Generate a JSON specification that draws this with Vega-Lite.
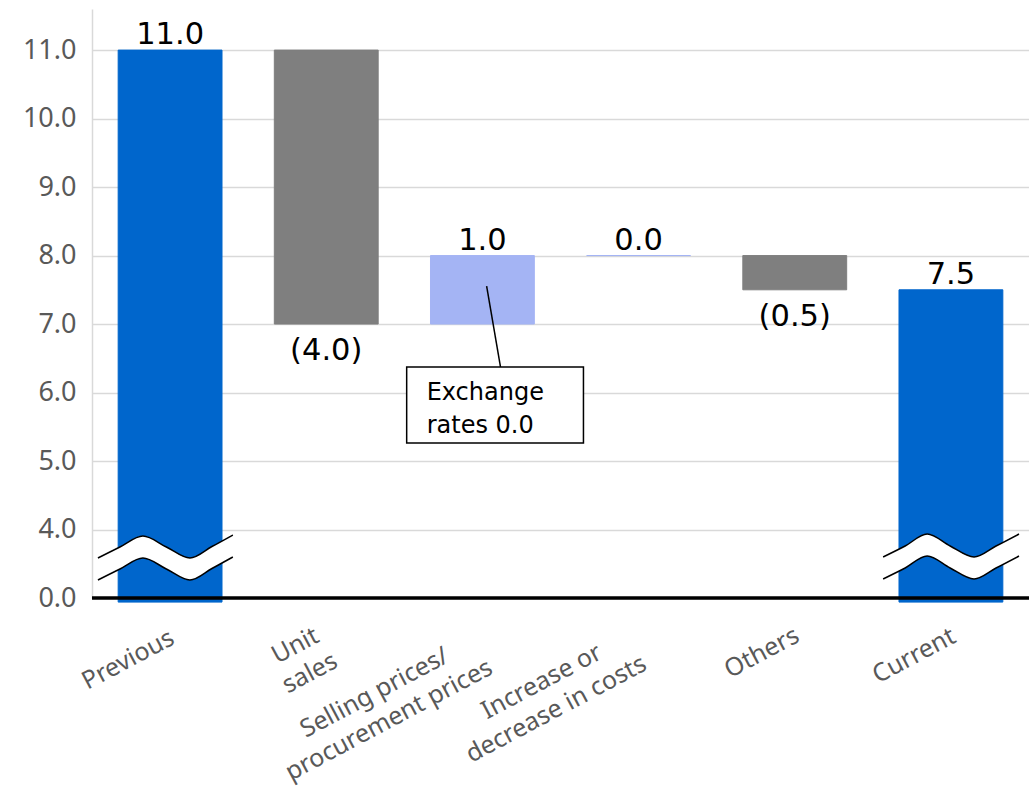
{
  "$schema": "https://vega.github.io/schema/vega-lite/v6.json",
  "width": 937,
  "height": 589,
  "autosize": {"type": "none"},
  "padding": {"left": 92, "top": 9, "right": 0, "bottom": 193},
  "background": "white",
  "config": {"view": {"stroke": null}},
  "datasets": {
    "steps": [
      {"cat": "Previous", "top": 11, "bottom": 2.94, "kind": "total", "label": "11.0"},
      {"cat": "Unit sales", "top": 11, "bottom": 7, "kind": "decrease", "label": "(4.0)"},
      {"cat": "Selling prices/procurement prices", "top": 8, "bottom": 7, "kind": "increase", "label": "1.0"},
      {"cat": "Increase or decrease in costs", "top": 8, "bottom": 8, "kind": "increase", "label": "0.0"},
      {"cat": "Others", "top": 8, "bottom": 7.5, "kind": "decrease", "label": "(0.5)"},
      {"cat": "Current", "top": 7.5, "bottom": 2.94, "kind": "total", "label": "7.5"}
    ],
    "wave": [
      {"bar": "Previous", "x": 0.038, "top": 3.584, "low": 3.263},
      {"bar": "Previous", "x": 0.179, "top": 3.745, "low": 3.424},
      {"bar": "Previous", "x": 0.326, "top": 3.905, "low": 3.584},
      {"bar": "Previous", "x": 0.476, "top": 3.745, "low": 3.424},
      {"bar": "Previous", "x": 0.627, "top": 3.584, "low": 3.263},
      {"bar": "Previous", "x": 0.768, "top": 3.752, "low": 3.431},
      {"bar": "Previous", "x": 0.902, "top": 3.920, "low": 3.599},
      {"bar": "Current", "x": 5.066, "top": 3.599, "low": 3.278},
      {"bar": "Current", "x": 5.207, "top": 3.759, "low": 3.438},
      {"bar": "Current", "x": 5.348, "top": 3.934, "low": 3.613},
      {"bar": "Current", "x": 5.495, "top": 3.759, "low": 3.438},
      {"bar": "Current", "x": 5.648, "top": 3.599, "low": 3.278},
      {"bar": "Current", "x": 5.789, "top": 3.759, "low": 3.438},
      {"bar": "Current", "x": 5.936, "top": 3.934, "low": 3.613}
    ],
    "callout": [
      {"boxLeft": 2.015, "boxRight": 3.147, "boxTop": 6.372, "boxBottom": 5.263,
       "pointX": 2.527, "pointY": 7.555, "tailX": 2.616, "tailY": 6.372,
       "textX": 2.143, "textY": 5.891, "text": "Exchange\nrates 0.0"}
    ]
  },
  "layer": [
    {
      "data": {"name": "steps"},
      "mark": {"type": "bar", "strokeWidth": 1},
      "encoding": {
        "x": {
          "field": "cat", "type": "nominal", "sort": null,
          "scale": {
            "domain": ["Previous", "Unit sales", "Selling prices/procurement prices", "Increase or decrease in costs", "Others", "Current"],
            "paddingInner": 0.335, "paddingOuter": 0.1675
          },
          "axis": {
            "title": null, "domain": false, "ticks": false,
            "labelAngle": -28, "labelAlign": "center", "labelBaseline": "middle",
            "labelOffset": {"condition": [
              {"test": "datum.value == 'Previous'", "value": -42},
              {"test": "datum.value == 'Unit sales'", "value": -31},
              {"test": "datum.value == 'Selling prices/procurement prices'", "value": -108},
              {"test": "datum.value == 'Increase or decrease in costs'", "value": -97},
              {"test": "datum.value == 'Others'", "value": -33}
            ], "value": -37},
            "labelPadding": {"condition": [
              {"test": "datum.value == 'Previous'", "value": 61},
              {"test": "datum.value == 'Unit sales'", "value": 47},
              {"test": "datum.value == 'Selling prices/procurement prices'", "value": 94},
              {"test": "datum.value == 'Increase or decrease in costs'", "value": 83},
              {"test": "datum.value == 'Others'", "value": 54}
            ], "value": 57},
            "labelFont": "Noto Sans", "labelFontSize": 25,
            "labelColor": "#595959", "labelLineHeight": 31, "labelLimit": 600,
            "labelExpr": "datum.value == 'Unit sales' ? ['Unit', 'sales'] : datum.value == 'Selling prices/procurement prices' ? ['Selling prices/', 'procurement prices'] : datum.value == 'Increase or decrease in costs' ? ['Increase or', 'decrease in costs'] : datum.value"
          }
        },
        "y": {
          "field": "top", "type": "quantitative",
          "scale": {"domain": [3, 11.6], "nice": false, "zero": false},
          "axis": {
            "title": null, "values": [3, 4, 5, 6, 7, 8, 9, 10, 11],
            "labelExpr": "datum.value == 3 ? '0.0' : format(datum.value, '.1f')",
            "ticks": false, "domainColor": "#d9d9d9", "domainWidth": 1.5,
            "gridColor": "#d9d9d9", "gridWidth": 1.5,
            "labelFont": "Noto Sans", "labelFontSize": 27, "labelColor": "#595959",
            "labelPadding": 16
          }
        },
        "y2": {"field": "bottom"},
        "color": {
          "field": "kind", "type": "nominal", "legend": null,
          "scale": {"domain": ["total", "decrease", "increase"], "range": ["#0066CC", "#7F7F7F", "#A4B4F4"]}
        },
        "stroke": {
          "field": "kind", "type": "nominal", "legend": null,
          "scale": {"domain": ["total", "decrease", "increase"], "range": ["#0066CC", "#7F7F7F", "#A4B4F4"]}
        }
      }
    },
    {
      "data": {"name": "steps"},
      "transform": [{"filter": "datum.kind != 'decrease'"}],
      "mark": {"type": "text", "font": "DejaVu Sans", "fontSize": 30.5, "color": "black", "baseline": "alphabetic", "dy": -6},
      "encoding": {
        "x": {"field": "cat", "type": "nominal", "sort": null, "axis": null,
              "scale": {"domain": ["Previous", "Unit sales", "Selling prices/procurement prices", "Increase or decrease in costs", "Others", "Current"], "paddingInner": 0.335, "paddingOuter": 0.1675}},
        "y": {"field": "top", "type": "quantitative"},
        "text": {"field": "label"}
      }
    },
    {
      "data": {"name": "steps"},
      "transform": [{"filter": "datum.kind == 'decrease'"}],
      "mark": {"type": "text", "font": "DejaVu Sans", "fontSize": 30.5, "color": "black", "baseline": "alphabetic", "dy": 36},
      "encoding": {
        "x": {"field": "cat", "type": "nominal", "sort": null, "axis": null,
              "scale": {"domain": ["Previous", "Unit sales", "Selling prices/procurement prices", "Increase or decrease in costs", "Others", "Current"], "paddingInner": 0.335, "paddingOuter": 0.1675}},
        "y": {"field": "bottom", "type": "quantitative"},
        "text": {"field": "label"}
      }
    },
    {
      "data": {"name": "wave"},
      "mark": {"type": "area", "color": "white", "interpolate": "monotone", "opacity": 1},
      "encoding": {
        "x": {"field": "x", "type": "quantitative", "scale": {"domain": [0, 6], "nice": false, "zero": false}, "axis": null},
        "y": {"field": "top", "type": "quantitative"},
        "y2": {"field": "low"},
        "detail": {"field": "bar"}
      }
    },
    {
      "data": {"name": "wave"},
      "mark": {"type": "line", "color": "black", "strokeWidth": 1.5, "interpolate": "monotone"},
      "encoding": {
        "x": {"field": "x", "type": "quantitative", "scale": {"domain": [0, 6], "nice": false, "zero": false}, "axis": null},
        "y": {"field": "top", "type": "quantitative"},
        "detail": {"field": "bar"}
      }
    },
    {
      "data": {"name": "wave"},
      "mark": {"type": "line", "color": "black", "strokeWidth": 1.5, "interpolate": "monotone"},
      "encoding": {
        "x": {"field": "x", "type": "quantitative", "scale": {"domain": [0, 6], "nice": false, "zero": false}, "axis": null},
        "y": {"field": "low", "type": "quantitative"},
        "detail": {"field": "bar"}
      }
    },
    {
      "data": {"name": "callout"},
      "mark": {"type": "rule", "color": "black", "strokeWidth": 1.5},
      "encoding": {
        "x": {"field": "pointX", "type": "quantitative", "scale": {"domain": [0, 6], "nice": false, "zero": false}, "axis": null},
        "x2": {"field": "tailX"},
        "y": {"field": "pointY", "type": "quantitative"},
        "y2": {"field": "tailY"}
      }
    },
    {
      "data": {"name": "callout"},
      "mark": {"type": "rect", "fill": "white", "stroke": "black", "strokeWidth": 1.5},
      "encoding": {
        "x": {"field": "boxLeft", "type": "quantitative", "scale": {"domain": [0, 6], "nice": false, "zero": false}, "axis": null},
        "x2": {"field": "boxRight"},
        "y": {"field": "boxTop", "type": "quantitative"},
        "y2": {"field": "boxBottom"}
      }
    },
    {
      "data": {"name": "callout"},
      "mark": {"type": "text", "font": "DejaVu Sans", "fontSize": 24, "color": "black", "align": "left", "baseline": "alphabetic", "lineBreak": "\n", "lineHeight": 33},
      "encoding": {
        "x": {"field": "textX", "type": "quantitative", "scale": {"domain": [0, 6], "nice": false, "zero": false}, "axis": null},
        "y": {"field": "textY", "type": "quantitative"},
        "text": {"field": "text"}
      }
    },
    {
      "data": {"values": [{"base": 3}]},
      "mark": {"type": "rule", "color": "black", "strokeWidth": 3.5},
      "encoding": {
        "y": {"field": "base", "type": "quantitative"}
      }
    }
  ],
  "resolve": {"scale": {"x": "independent"}}
}
